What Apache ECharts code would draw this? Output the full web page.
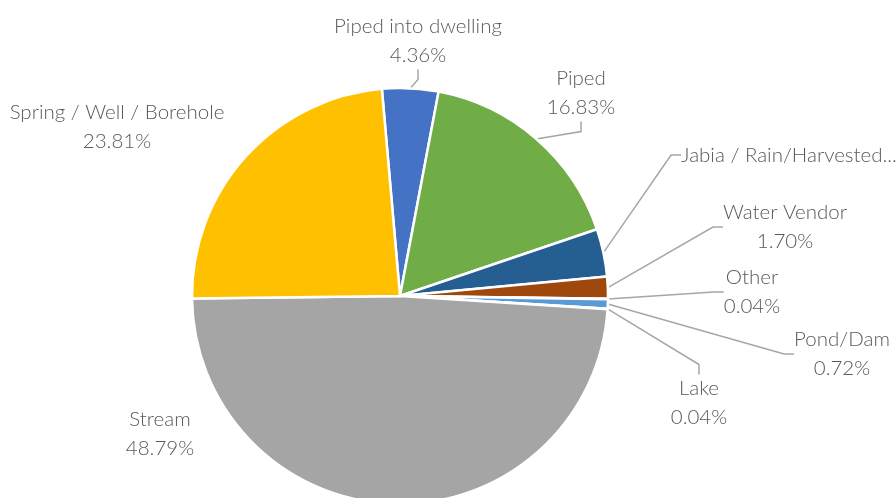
<!DOCTYPE html>
<html>
<head>
<meta charset="utf-8">
<script src="https://cdn.jsdelivr.net/npm/echarts@6/dist/echarts.min.js"></script>
<style>
  html, body { margin: 0; padding: 0; background: #fff; }
  #chart { width: 896px; height: 498px; }
</style>
</head>
<body>
<div id="chart"></div>
<script>
// Main source of drinking water (share of households, %)
const categories = [
  'Piped into dwelling', 'Piped', 'Jabia / Rain/Harvested...', 'Water Vendor',
  'Other', 'Pond/Dam', 'Lake', 'Stream', 'Spring / Well / Borehole'
];
const shares = [4.36, 16.83, 3.71, 1.70, 0.04, 0.72, 0.04, 48.79, 23.81];
const colors = ['#4472C4', '#70AD47', '#255E91', '#9E480E', '#636363', '#5B9BD5', '#997300', '#A5A5A5', '#FFC000'];
// Slices whose label text shows only the name
const nameOnly = [false, false, true, false, false, false, false, false, false];
// Slices drawn without a leader line
const noLeader = [false, false, false, false, false, false, false, true, true];

// Label anchor points (centre of each label block)
const labelSpots = [
  [418, 41], [581, 93], [789, 155], [785, 227], [752, 292],
  [842, 354], [699, 403], [160, 434], [117, 127]
];

const chart = echarts.init(document.getElementById('chart'), null, { renderer: 'canvas' });

chart.setOption({
  animation: false,
  series: [{
    type: 'pie',
    center: [400, 296],
    radius: 208,
    startAngle: 95,
    clockwise: true,
    minAngle: 0,
    avoidLabelOverlap: false,
    emphasis: { disabled: true },
    itemStyle: { borderColor: '#ffffff', borderWidth: 2.5 },
    label: {
      show: true,
      fontFamily: 'Lato',
      fontWeight: 300,
      fontSize: 20.5,
      lineHeight: 28.5,
      color: '#595959',
      align: 'center',
      formatter: p => nameOnly[p.dataIndex] ? p.name : p.name + '\n' + p.value.toFixed(2) + '%'
    },
    labelLine: {
      show: true,
      length: 15,
      length2: 10,
      lineStyle: { color: '#A6A6A6', width: 1.5 }
    },
    labelLayout: p => ({
      x: labelSpots[p.dataIndex][0],
      y: labelSpots[p.dataIndex][1],
      align: 'center',
      verticalAlign: 'middle'
    }),
    data: categories.map((c, i) => ({
      name: c,
      value: shares[i],
      itemStyle: { color: colors[i] },
      labelLine: { show: !noLeader[i] }
    }))
  }]
});
</script>
</body>
</html>
